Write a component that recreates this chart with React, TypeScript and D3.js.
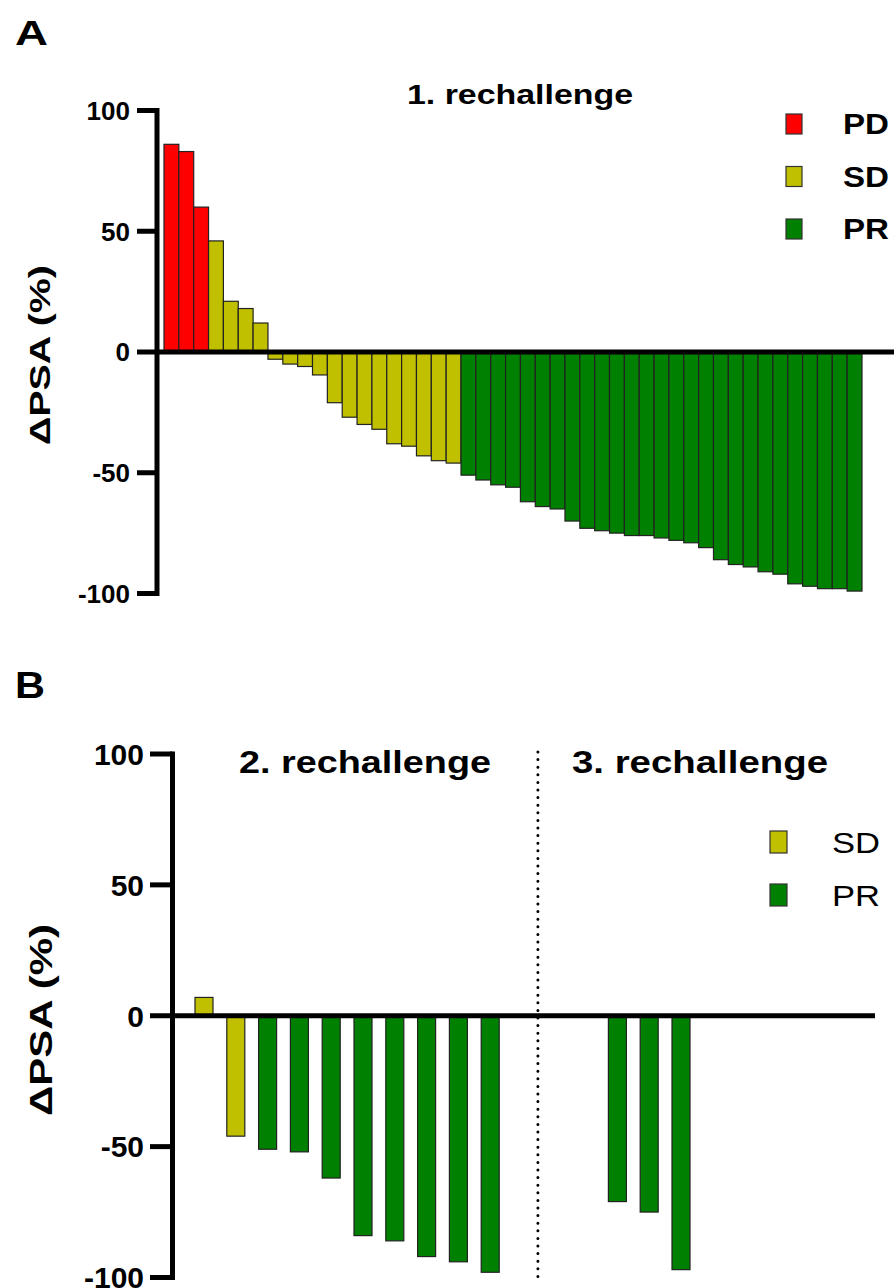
import React from "react";
import * as d3 from "d3";

// ---------- Data ----------
// Panel A: 1. rechallenge (waterfall, sorted)
const pdValues = [86, 83, 60];
const sdValues = [46, 21, 18, 12, -3, -5, -6, -9.5, -21, -27, -30, -32, -38, -39, -43, -45, -46];
const prValues = [
  -51, -53, -55, -56, -62, -64, -65, -70, -73, -74, -75, -76, -76, -77, -78,
  -79, -81, -86, -88, -89, -91, -92, -96, -97, -98, -98, -99,
];

// Panel B: 2. and 3. rechallenge
const rech2Values = [7, -46, -51, -52, -62, -84, -86, -92, -94, -98];
const rech2Response = ["SD", "SD", "PR", "PR", "PR", "PR", "PR", "PR", "PR", "PR"];
const rech2Slots = [0, 1, 2, 3, 4, 5, 6, 7, 8, 9];
const rech3Values = [-71, -75, -97];
const rech3Response = ["PR", "PR", "PR"];
const rech3Slots = [13, 14, 15];
const dividerSlot = 10.5;

const yTicks = [100, 50, 0, -50, -100];
const legendA = ["PD", "SD", "PR"];
const legendB = ["SD", "PR"];

const colors: Record<string, string> = {
  PD: "#ff0000",
  SD: "#c0c000",
  PR: "#008000",
};

const FONT = "'Liberation Sans', Arial, Helvetica, sans-serif";

export default function App() {
  const W = 894;
  const H = 1288;

  // ---------- Panel A ----------
  const barsA = [
    ...pdValues.map((v) => ({ v, r: "PD" })),
    ...sdValues.map((v) => ({ v, r: "SD" })),
    ...prValues.map((v) => ({ v, r: "PR" })),
  ];
  const xA = d3
    .scaleBand<number>()
    .domain(d3.range(barsA.length))
    .range([164, 862])
    .padding(0);
  const yA = d3.scaleLinear().domain([-100, 100]).range([593.5, 110.5]);
  const axisAx = 157;

  // ---------- Panel B ----------
  const xB = d3.scaleLinear().domain([0, 15]).range([204, 681]);
  const barWB = 18;
  const yB = d3.scaleLinear().domain([-100, 100]).range([1277.5, 754]);
  const axisBx = 172.5;
  const barsB = [
    ...rech2Values.map((v, i) => ({ v, r: rech2Response[i], s: rech2Slots[i] })),
    ...rech3Values.map((v, i) => ({ v, r: rech3Response[i], s: rech3Slots[i] })),
  ];

  return (
    <div style={{ position: "absolute", left: 0, top: 0 }}>
      <svg width={W} height={H} style={{ display: "block", background: "#fff" }}>
        <rect x={0} y={0} width={W} height={H} fill="#fff" />

        {/* Panel labels */}
        <text x={15} y={45} fontFamily={FONT} fontWeight="bold" fontSize={35} textLength={33} lengthAdjust="spacingAndGlyphs">A</text>
        <text x={15} y={698} fontFamily={FONT} fontWeight="bold" fontSize={36} textLength={30} lengthAdjust="spacingAndGlyphs">B</text>

        {/* ===== Panel A ===== */}
        <g>
          {barsA.map((d, i) => {
            const y0 = yA(0);
            const y1 = yA(d.v);
            return (
              <rect
                key={i}
                x={xA(i)!}
                y={Math.min(y0, y1)}
                width={xA.bandwidth()}
                height={Math.abs(y1 - y0)}
                fill={colors[d.r]}
                stroke="#222"
                strokeWidth={1.2}
              />
            );
          })}
          {/* zero line */}
          <line x1={axisAx} x2={894} y1={yA(0)} y2={yA(0)} stroke="#000" strokeWidth={5} />
          {/* y axis */}
          <line x1={axisAx} x2={axisAx} y1={yA(100) - 2.5} y2={yA(-100) + 2.5} stroke="#000" strokeWidth={5} />
          {yTicks.map((t) => (
            <g key={t}>
              <line x1={137} x2={axisAx} y1={yA(t)} y2={yA(t)} stroke="#000" strokeWidth={5} />
              <text
                x={130}
                y={yA(t)}
                dy="0.36em"
                textAnchor="end"
                fontFamily={FONT}
                fontWeight="bold"
                fontSize={26}
              >
                {t}
              </text>
            </g>
          ))}
          <text
            transform={`translate(50,355) rotate(-90)`}
            textAnchor="middle"
            fontFamily={FONT}
            fontWeight="bold"
            fontSize={29}
            textLength={180}
            lengthAdjust="spacingAndGlyphs"
          >
            ΔPSA (%)
          </text>
          <text
            x={520}
            y={104}
            textAnchor="middle"
            fontFamily={FONT}
            fontWeight="bold"
            fontSize={28}
            textLength={226}
            lengthAdjust="spacingAndGlyphs"
          >
            1. rechallenge
          </text>
          {legendA.map((k, i) => {
            const cy = 124 + i * 52.5;
            return (
              <g key={k}>
                <rect x={786} y={cy - 10} width={16} height={20} fill={colors[k]} stroke="#333" strokeWidth={1.2} />
                <text
                  x={843}
                  y={cy}
                  dy="0.36em"
                  fontFamily={FONT}
                  fontWeight="bold"
                  fontSize={29}
                  textLength={46}
                  lengthAdjust="spacingAndGlyphs"
                >
                  {k}
                </text>
              </g>
            );
          })}
        </g>

        {/* ===== Panel B ===== */}
        <g>
          {barsB.map((d, i) => {
            const y0 = yB(0);
            const y1 = yB(d.v);
            return (
              <rect
                key={i}
                x={xB(d.s) - barWB / 2}
                y={Math.min(y0, y1)}
                width={barWB}
                height={Math.abs(y1 - y0)}
                fill={colors[d.r]}
                stroke="#222"
                strokeWidth={1.2}
              />
            );
          })}
          {/* divider */}
          <line
            x1={xB(dividerSlot)}
            x2={xB(dividerSlot)}
            y1={752}
            y2={1280}
            stroke="#000"
            strokeWidth={3}
            strokeLinecap="round"
            strokeDasharray="0 7.6"
          />
          <line x1={axisBx} x2={875} y1={yB(0)} y2={yB(0)} stroke="#000" strokeWidth={5} />
          <line x1={axisBx} x2={axisBx} y1={yB(100) - 2.5} y2={yB(-100) + 2.5} stroke="#000" strokeWidth={5} />
          {yTicks.map((t) => (
            <g key={t}>
              <line x1={150} x2={axisBx} y1={yB(t)} y2={yB(t)} stroke="#000" strokeWidth={5} />
              <text
                x={144}
                y={yB(t)}
                dy="0.36em"
                textAnchor="end"
                fontFamily={FONT}
                fontWeight="bold"
                fontSize={30}
              >
                {t}
              </text>
            </g>
          ))}
          <text
            transform={`translate(52,1020) rotate(-90)`}
            textAnchor="middle"
            fontFamily={FONT}
            fontWeight="bold"
            fontSize={32}
            textLength={192}
            lengthAdjust="spacingAndGlyphs"
          >
            ΔPSA (%)
          </text>
          <text
            x={365}
            y={773}
            textAnchor="middle"
            fontFamily={FONT}
            fontWeight="bold"
            fontSize={32}
            textLength={252}
            lengthAdjust="spacingAndGlyphs"
          >
            2. rechallenge
          </text>
          <text
            x={700}
            y={773}
            textAnchor="middle"
            fontFamily={FONT}
            fontWeight="bold"
            fontSize={32}
            textLength={256}
            lengthAdjust="spacingAndGlyphs"
          >
            3. rechallenge
          </text>
          {legendB.map((k, i) => {
            const cy = 842 + i * 53;
            return (
              <g key={k}>
                <rect x={770} y={cy - 11} width={17} height={22} fill={colors[k]} stroke="#333" strokeWidth={1.2} />
                <text
                  x={832}
                  y={cy}
                  dy="0.36em"
                  fontFamily={FONT}
                  fontSize={30}
                  textLength={48}
                  lengthAdjust="spacingAndGlyphs"
                >
                  {k}
                </text>
              </g>
            );
          })}
        </g>
      </svg>
    </div>
  );
}
